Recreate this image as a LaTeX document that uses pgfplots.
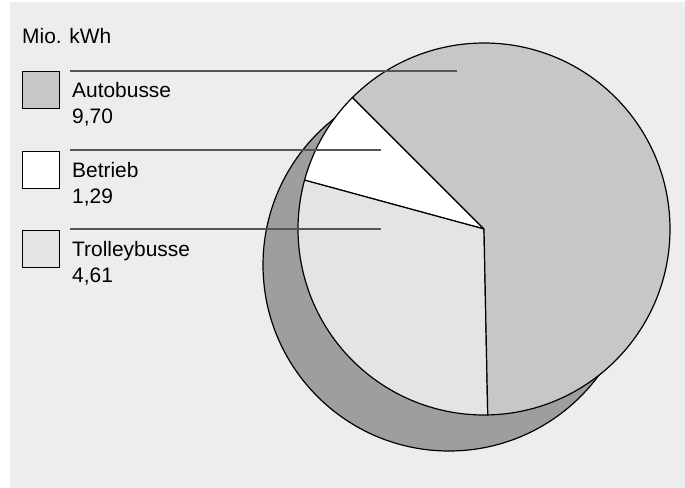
\documentclass[border=0pt]{standalone}
\usepackage{pgfplots}
\usepackage{pgfplotstable}
\pgfplotsset{compat=1.18}
\usepackage{fontspec}
\setmainfont{Liberation Sans}
\definecolor{bgc}{RGB}{236,237,236}
\definecolor{autoc}{RGB}{198,199,200}
\definecolor{trolc}{RGB}{227,228,229}
\definecolor{shadc}{RGB}{157,158,159}
\definecolor{leadc}{RGB}{85,85,85}
\pgfplotstableread{
label value
Autobusse 9.70
Betrieb 1.29
Trolleybusse 4.61
}\piedata
\begin{document}
\begin{tikzpicture}
\pgfplotstablegetelem{0}{value}\of\piedata \let\va\pgfplotsretval
\pgfplotstablegetelem{1}{value}\of\piedata \let\vb\pgfplotsretval
\pgfplotstablegetelem{2}{value}\of\piedata \let\vc\pgfplotsretval
\pgfmathsetmacro\total{\va+\vb+\vc}
\pgfmathsetmacro\aS{135}
\pgfmathsetmacro\aB{\aS+360*\vb/\total}
\pgfmathsetmacro\aC{\aB+360*\vc/\total}
\pgfmathsetmacro\aA{\aC+360*\va/\total}
\begin{axis}[scale only axis, width=685bp, height=488bp,
  xmin=0, xmax=685, ymin=0, ymax=488, y dir=reverse,
  hide axis, clip=false]
\fill[white] (axis cs:0,0) rectangle (axis cs:685,488);
\fill[bgc] (axis cs:10,2) rectangle (axis cs:685,488);
% shadow
\filldraw[fill=shadc, draw=black, line width=1.2bp] (axis cs:449,265) circle[radius=186bp];
% slices
\filldraw[fill=white, draw=black, line width=1.2bp, line join=round] (axis cs:484,229) -- ++(\aS:186bp) arc[start angle=\aS, end angle=\aB, radius=186bp] -- cycle;
\filldraw[fill=trolc, draw=black, line width=1.2bp, line join=round] (axis cs:484,229) -- ++(\aB:186bp) arc[start angle=\aB, end angle=\aC, radius=186bp] -- cycle;
\filldraw[fill=autoc, draw=black, line width=1.2bp, line join=round] (axis cs:484,229) -- ++(\aC:186bp) arc[start angle=\aC, end angle=\aA, radius=186bp] -- cycle;
% leader lines
\draw[leadc, line width=1.2bp] (axis cs:70,71) -- (axis cs:457,71);
\draw[leadc, line width=1.2bp] (axis cs:70,150) -- (axis cs:381,150);
\draw[leadc, line width=1.2bp] (axis cs:70,229) -- (axis cs:381,229);
% legend boxes
\filldraw[fill=autoc, draw=black, line width=0.9bp] (axis cs:22.5,71.5) rectangle (axis cs:59.5,108.5);
\filldraw[fill=white, draw=black, line width=0.9bp] (axis cs:22.5,151) rectangle (axis cs:59.5,188);
\filldraw[fill=trolc, draw=black, line width=0.9bp] (axis cs:22.5,230.5) rectangle (axis cs:59.5,267.5);
% texts
\node[anchor=base west, inner sep=0pt, font=\fontsize{21}{24}\selectfont] at (axis cs:22,44) {Mio. kWh};
\node[anchor=base west, inner sep=0pt, font=\fontsize{21}{24}\selectfont] at (axis cs:72,97) {Autobusse};
\node[anchor=base west, inner sep=0pt, font=\fontsize{21}{24}\selectfont] at (axis cs:72,123) {9,70};
\node[anchor=base west, inner sep=0pt, font=\fontsize{21}{24}\selectfont] at (axis cs:72,177) {Betrieb};
\node[anchor=base west, inner sep=0pt, font=\fontsize{21}{24}\selectfont] at (axis cs:72,203) {1,29};
\node[anchor=base west, inner sep=0pt, font=\fontsize{21}{24}\selectfont] at (axis cs:72,256) {Trolleybusse};
\node[anchor=base west, inner sep=0pt, font=\fontsize{21}{24}\selectfont] at (axis cs:72,282) {4,61};
\end{axis}
\end{tikzpicture}
\end{document}
